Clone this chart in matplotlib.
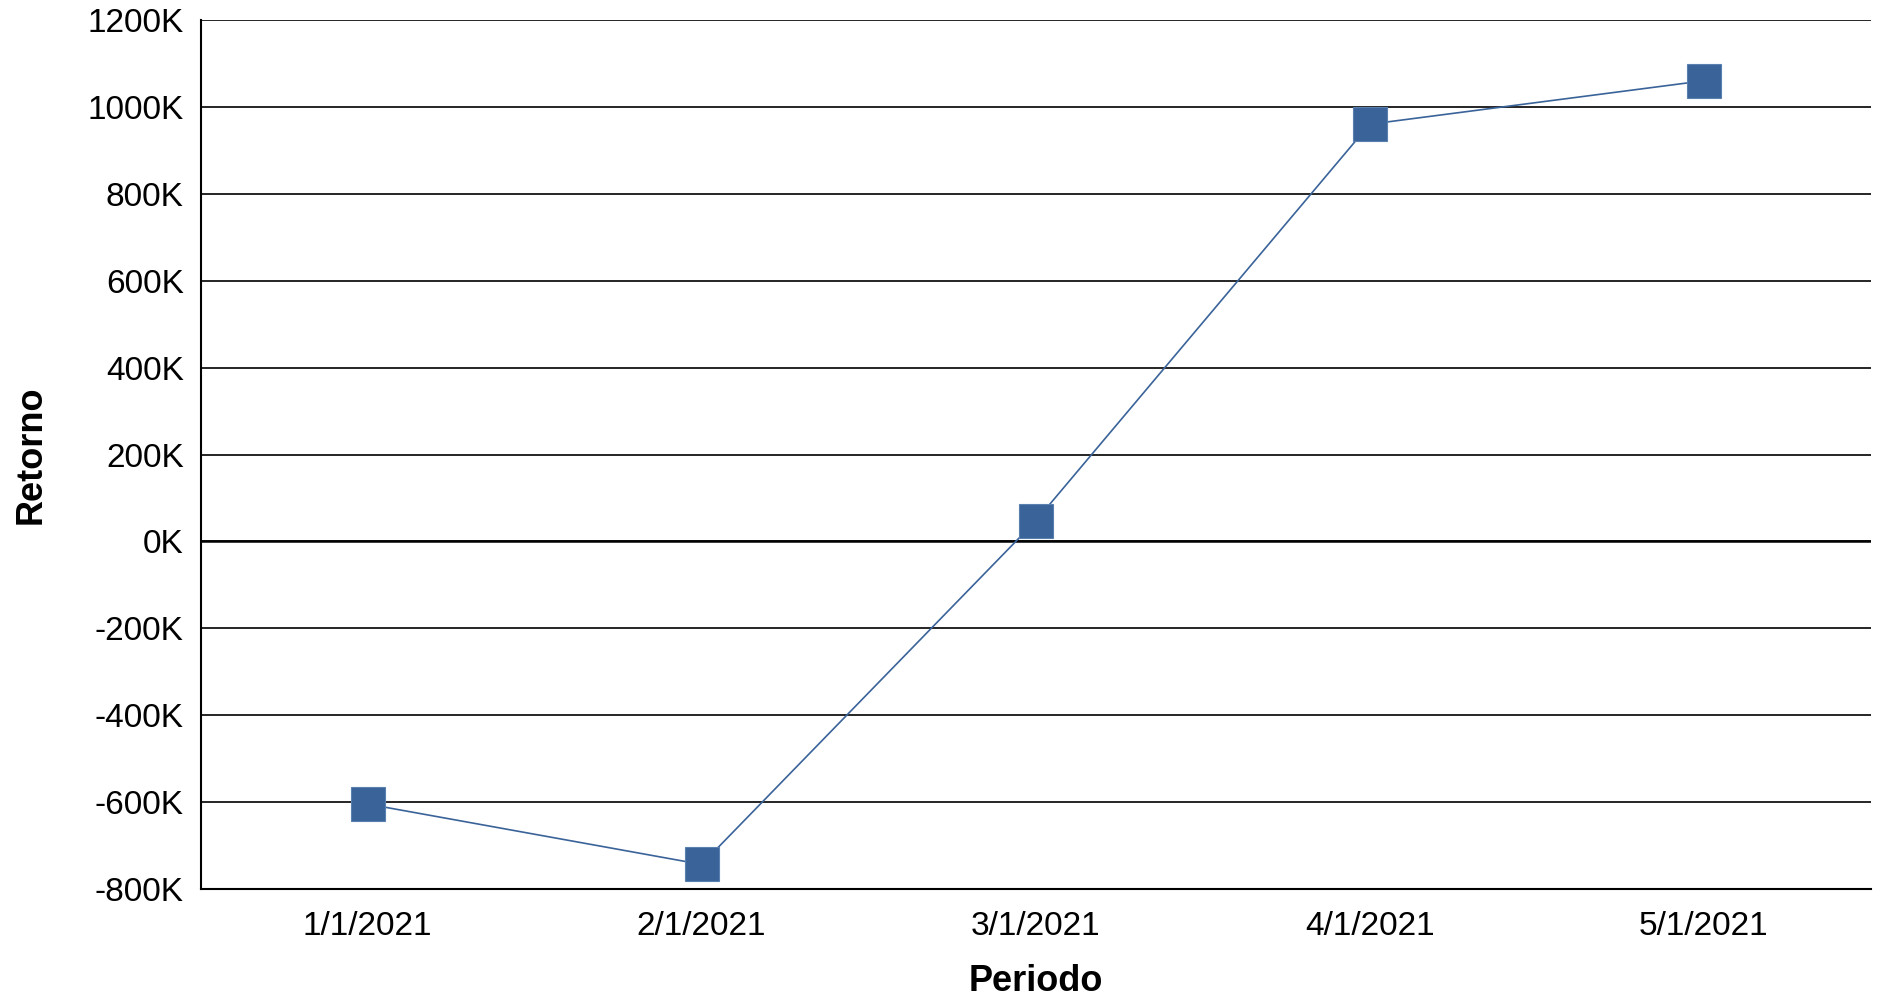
import matplotlib.pyplot as plt

plt.rcParams['font.family'] = ['Liberation Sans', 'DejaVu Sans']

periods = ['1/1/2021', '2/1/2021', '3/1/2021', '4/1/2021', '5/1/2021']
retorno = [-605000, -744000, 47000, 961000, 1061000]
yticks = list(range(-800000, 1200001, 200000))
ylabels = ['%dK' % (v // 1000) for v in yticks]

fig = plt.figure(figsize=(18.83, 9.98), dpi=100)
ax = fig.add_axes([0.1065, 0.1095, 0.887, 0.87])
x = list(range(len(periods)))
ax.plot(x, retorno, color='#3A6399', linewidth=1.2, marker='s', markersize=25,
        markerfacecolor='#3A6399', markeredgecolor='#5a80b0', markeredgewidth=0.8, zorder=3)
ax.set_xlim(-0.5, 4.5)
ax.set_ylim(-800000, 1200000)
ax.set_yticks(yticks)
ax.set_yticklabels(ylabels)
ax.set_xticks(x)
ax.set_xticklabels(periods)
ax.grid(axis='y', color='black', linewidth=1.2)
ax.axhline(0, color='black', linewidth=1.8)
for s in ['top', 'right']:
    ax.spines[s].set_visible(False)
for s in ['left', 'bottom']:
    ax.spines[s].set_linewidth(1.5)
ax.tick_params(axis='both', labelsize=24, length=0)
ax.tick_params(axis='x', pad=16)
ax.tick_params(axis='y', pad=12)
ax.set_xlabel('Periodo', fontsize=26, fontweight='bold', labelpad=16)
ax.set_ylabel('Retorno', fontsize=26, fontweight='bold', labelpad=28)
fig.savefig('out.png')
